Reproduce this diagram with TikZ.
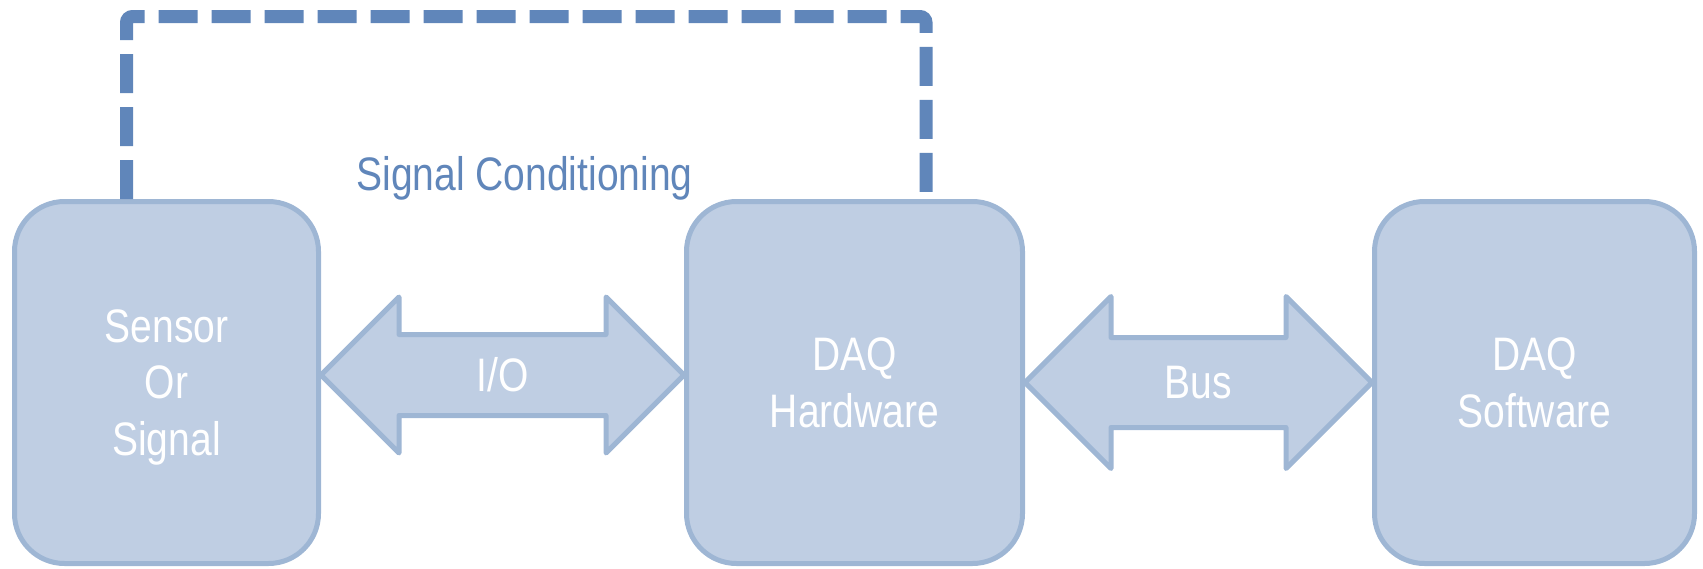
\documentclass[tikz,border=0pt]{standalone}
\usepackage{fontspec}
\setmainfont[FakeStretch=0.83]{Liberation Sans}
\usepackage{xcolor}
\usepackage{tikz}
\usetikzlibrary{positioning,calc}
\definecolor{boxfill}{RGB}{191,206,227}
\definecolor{boxline}{RGB}{158,182,212}
\definecolor{condblue}{RGB}{96,134,186}
\newcommand{\daqfont}{\fontsize{23.5}{28.25}\selectfont}

\begin{document}
\begin{tikzpicture}[x = 0.5pt, y = -0.5pt,
    daqbox/.style = {draw = boxline, fill = boxfill, line width = 2.5pt, rounded corners = 25pt,
      minimum height = 181pt, text = white, align = center, text depth = 0pt, font = \daqfont},
    flow/.style = {draw = boxline, fill = boxfill, line width = 2.5pt, line join = round},
    cond/.style = {draw = condblue, line width = 6.5pt, dash pattern = on 19.5pt off 7pt, rounded corners = 3pt}]
    \useasboundingbox (0,0) rectangle (1703,568);
    \node[daqbox, minimum width = 152pt] (sensor) at (166.5,382.5) {Sensor\\Or\\Signal};
    \node[daqbox, minimum width = 168pt] (hw) at (854.5,382.5) {DAQ\\Hardware};
    \node[daqbox, minimum width = 160pt] (sw) at (1534.5,382.5) {DAQ\\Software};
        % Signal conditioning loop
    \draw[cond] ($(sensor.north)+(-40,0)$) -- ++(0,-182.5) -| ($(hw.north)+(71.5,0)$);
    \node[anchor = base, text = condblue, font = \daqfont] (sigcond) at (524.5,190) {Signal Conditioning};
        % I/O arrow
    \coordinate (ioL) at ($(sensor.east)+(0,-7.5)$);
    \coordinate (ioR) at ($(hw.west)+(0,-7.5)$);
    \draw[flow] (ioL) -- ($(ioL)+(78,-78)$) -- ($(ioL)+(78,-40.5)$) -- ($(ioR)+(-78,-40.5)$)
      -- ($(ioR)+(-78,-78)$) -- (ioR) -- ($(ioR)+(-78,78)$) -- ($(ioR)+(-78,40.5)$)
      -- ($(ioL)+(78,40.5)$) -- ($(ioL)+(78,78)$) -- cycle;
    \node[text = white, font = \daqfont] (io) at ($(ioL)!0.5!(ioR)$) {I/O};
        % Bus arrow
    \coordinate (busL) at (hw.east);
    \coordinate (busR) at (sw.west);
    \draw[flow] (busL) -- ($(busL)+(86,-86)$) -- ($(busL)+(86,-45)$) -- ($(busR)+(-86,-45)$)
      -- ($(busR)+(-86,-86)$) -- (busR) -- ($(busR)+(-86,86)$) -- ($(busR)+(-86,45)$)
      -- ($(busL)+(86,45)$) -- ($(busL)+(86,86)$) -- cycle;
    \node[text = white, font = \daqfont] (bus) at ($(busL)!0.5!(busR)$) {Bus};
  \end{tikzpicture}
\end{document}
